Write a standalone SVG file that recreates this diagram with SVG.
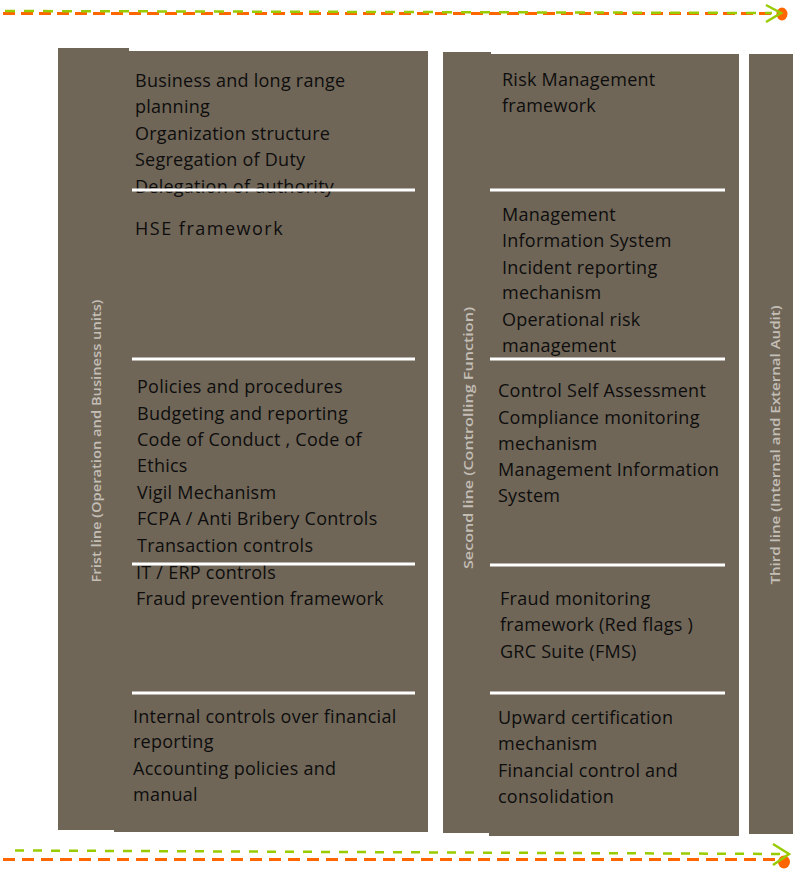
<svg xmlns="http://www.w3.org/2000/svg" width="793" height="874" viewBox="0 0 793 874">
<style>
.bg{fill:#706658}
.sep{stroke:#ffffff;stroke-width:3}
.t{font-family:"Open Sans","Liberation Sans",sans-serif;font-size:18px;fill:#0d0d0d;letter-spacing:0.25px}
.v{font-family:"Open Sans","Liberation Sans",sans-serif;font-size:13px;font-weight:600;fill:#c3beb6}
.g{fill:none;stroke:#99cc00;stroke-width:2.5}
.o{fill:none;stroke:#ff6600;stroke-width:3}
</style>
<rect width="793" height="874" fill="#ffffff"/>
<g id="connectors">
  <line class="o" x1="3" y1="13.5" x2="776" y2="13.5" stroke-dasharray="12 6"/>
  <line class="g" x1="5" y1="11" x2="772" y2="13" stroke-dasharray="10 9"/>
  <ellipse cx="782" cy="14" rx="5.5" ry="6.5" fill="#ff6600"/>
  <polyline class="g" points="766,5 781,13 766,22"/>
  <line class="g" x1="15" y1="850.5" x2="783" y2="854" stroke-dasharray="9 9"/>
  <line class="o" x1="3" y1="859.5" x2="778" y2="859.5" stroke-dasharray="12 7"/>
  <ellipse cx="784" cy="862" rx="6" ry="6.5" fill="#ff6600"/>
  <polyline class="g" points="773,844 789,854 773,865"/>
</g>
<g id="first-line">
  <rect class="bg" x="58" y="48" width="71" height="782"/>
  <rect class="bg" x="114" y="51" width="314" height="781"/>
  <text class="v" transform="translate(101,441) rotate(-90)" text-anchor="middle" textLength="283" lengthAdjust="spacingAndGlyphs">Frist line (Operation and Business units)</text>
  <g id="c1-b1">
    <text class="t" x="135" y="87">Business and long range</text>
    <text class="t" x="135" y="113">planning</text>
    <text class="t" x="135" y="140">Organization structure</text>
    <text class="t" x="135" y="166">Segregation of Duty</text>
    <text class="t" x="135" y="193">Delegation of authority</text>
  </g>
  <line class="sep" x1="132" y1="190" x2="415" y2="190"/>
  <g id="c1-b2">
    <text class="t" x="135" y="235" style="letter-spacing:1.5px">HSE framework</text>
  </g>
  <line class="sep" x1="132" y1="359" x2="415" y2="359"/>
  <g id="c1-b3">
    <text class="t" x="137" y="393">Policies and procedures</text>
    <text class="t" x="137" y="420">Budgeting and reporting</text>
    <text class="t" x="137" y="446">Code of Conduct , Code of</text>
    <text class="t" x="137" y="472">Ethics</text>
    <text class="t" x="137" y="499">Vigil Mechanism</text>
    <text class="t" x="137" y="525">FCPA / Anti Bribery Controls</text>
    <text class="t" x="137" y="552">Transaction controls</text>
  </g>
  <g id="c1-b4">
    <text class="t" x="136" y="579">IT / ERP controls</text>
    <text class="t" x="136" y="605">Fraud prevention framework</text>
  </g>
  <line class="sep" x1="132" y1="564" x2="415" y2="564"/>
  <line class="sep" x1="132" y1="693" x2="415" y2="693"/>
  <g id="c1-b5">
    <text class="t" x="133" y="723">Internal controls over financial</text>
    <text class="t" x="133" y="748">reporting</text>
    <text class="t" x="133" y="775">Accounting policies and</text>
    <text class="t" x="133" y="801">manual</text>
  </g>
</g>
<g id="second-line">
  <rect class="bg" x="443" y="52" width="48" height="781"/>
  <rect class="bg" x="489" y="54" width="250" height="782"/>
  <text class="v" transform="translate(473,438) rotate(-90)" text-anchor="middle" textLength="262" lengthAdjust="spacingAndGlyphs">Second line (Controlling Function)</text>
  <g id="c2-b1">
    <text class="t" x="502" y="86">Risk Management</text>
    <text class="t" x="502" y="112">framework</text>
  </g>
  <line class="sep" x1="490" y1="190" x2="725" y2="190"/>
  <g id="c2-b2">
    <text class="t" x="502" y="221">Management</text>
    <text class="t" x="502" y="247">Information System</text>
    <text class="t" x="502" y="274">Incident reporting</text>
    <text class="t" x="502" y="299">mechanism</text>
    <text class="t" x="502" y="326">Operational risk</text>
    <text class="t" x="502" y="352">management</text>
  </g>
  <line class="sep" x1="490" y1="359" x2="725" y2="359"/>
  <g id="c2-b3">
    <text class="t" x="498" y="397">Control Self Assessment</text>
    <text class="t" x="498" y="424">Compliance monitoring</text>
    <text class="t" x="498" y="450">mechanism</text>
    <text class="t" x="498" y="476">Management Information</text>
    <text class="t" x="498" y="502">System</text>
  </g>
  <line class="sep" x1="490" y1="565" x2="725" y2="565"/>
  <g id="c2-b4">
    <text class="t" x="500" y="605">Fraud monitoring</text>
    <text class="t" x="500" y="631">framework (Red flags )</text>
    <text class="t" x="500" y="658">GRC Suite (FMS)</text>
  </g>
  <line class="sep" x1="490" y1="693" x2="725" y2="693"/>
  <g id="c2-b5">
    <text class="t" x="498" y="724">Upward certification</text>
    <text class="t" x="498" y="750">mechanism</text>
    <text class="t" x="498" y="777">Financial control and</text>
    <text class="t" x="498" y="803">consolidation</text>
  </g>
</g>
<g id="third-line">
  <rect class="bg" x="749" y="54" width="50" height="780"/>
  <text class="v" transform="translate(780,445) rotate(-90)" text-anchor="middle" textLength="279" lengthAdjust="spacingAndGlyphs">Third line (Internal and External Audit)</text>
</g>
</svg>
